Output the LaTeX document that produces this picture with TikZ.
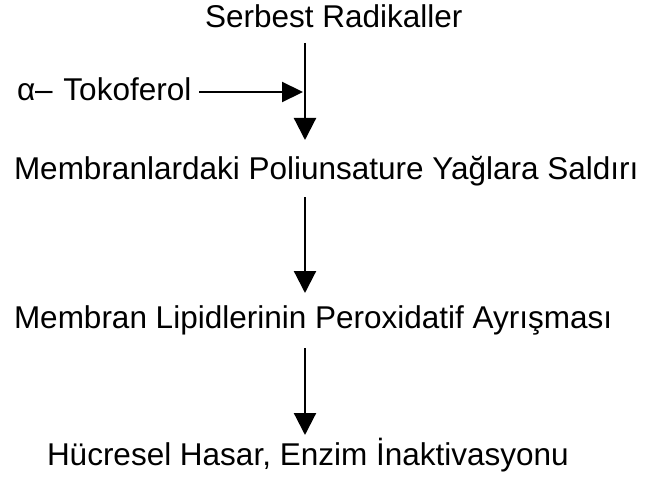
\documentclass[tikz,border=0pt]{standalone}
\usepackage{fontspec}
\setmainfont{Liberation Sans}
\usetikzlibrary{arrows.meta}
\begin{document}
\begin{tikzpicture}[x=1pt,y=-1pt,
  lbl/.style={anchor=base west,inner sep=0pt,outer sep=0pt,font=\fontsize{31.5}{36}\selectfont},
  varr/.style={line width=2.2pt,-{Triangle[length=22pt,width=22pt]}},
  harr/.style={line width=2.2pt,-{Triangle[length=21pt,width=20pt]}}]
\useasboundingbox (0,0) rectangle (654,487);
\node[lbl] (r1) at (205,28) {Serbest Radikaller};
\node[lbl] (tok) at (17,101) {α– \hspace{2pt}Tokoferol};
\node[lbl] (r2) at (14,179) {Membranlardaki Poliunsature Yağlara Saldırı};
\node[lbl] (r3) at (14,328) {Membran Lipidlerinin Peroxidatif Ayrışması};
\node[lbl] (r4) at (47,465) {Hücresel Hasar, Enzim İnaktivasyonu};
\coordinate (a1s) at (305,43);
\coordinate (a1e) at (305,140);
\coordinate (a2s) at (305,197);
\coordinate (a2e) at (305,293);
\coordinate (a3s) at (305,348);
\coordinate (a3e) at (305,435);
\coordinate (he) at (303,92);
\draw[varr] (a1s) -- (a1e);
\draw[harr] ([xshift=8pt]tok.east |- he) -- (he);
\draw[varr] (a2s) -- (a2e);
\draw[varr] (a3s) -- (a3e);
\end{tikzpicture}
\end{document}
